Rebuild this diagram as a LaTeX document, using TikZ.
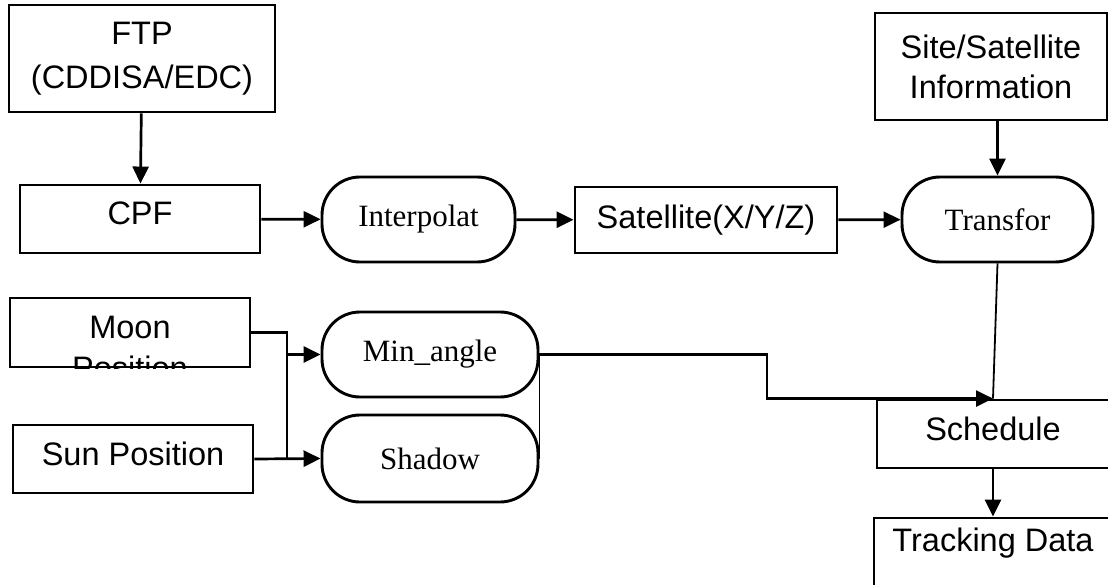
\documentclass[tikz,border=0pt]{standalone}
\usepackage{fontspec}
\setmainfont{Liberation Serif}
\setsansfont{Liberation Sans}
\usetikzlibrary{arrows.meta, positioning, calc}

\begin{document}
\begin{tikzpicture}[
    x=1pt, y=-1pt,
    block/.style={draw, line width=2.9pt, minimum width=240pt, minimum height=68pt,
                  align=center, inner sep=0pt, font=\sffamily\fontsize{32.5}{40}\selectfont},
    lifted/.style={text height=24pt, text depth=12pt},
    rblock/.style={draw, line width=2.9pt, rounded corners=38pt, minimum width=193pt,
                   minimum height=85pt, inner sep=0pt, font=\rmfamily\fontsize{31}{36}\selectfont},
    arr/.style={-{Triangle[length=17pt, width=16pt]}, line width=2.7pt},
    thinline/.style={line width=1.8pt},
]
    \clip (0,0) rectangle (1108,585);
    \fill[white] (0,0) rectangle (1108,585);

    % orbit prediction chain
    \node[block, minimum width=266pt, minimum height=107pt,
          font=\sffamily\fontsize{32.5}{44}\selectfont] (ftp) at (142,58.5) {FTP\\(CDDISA/EDC)};
    \node[block, lifted] (cpf) at (140,219) {CPF};
    \node[rblock] (interp) at (418.5,219.5) {Interpolat};
    \node[block, minimum width=262pt, minimum height=66pt] (sat) at (706,220) {Satellite(X/Y/Z)};
    \node[rblock, minimum width=191pt] (trans) at (997.5,219.5) {Transfor};
    \node[block, minimum width=232pt, minimum height=107pt] (site) at (991,66.5) {Site/Satellite\\Information};

    % constraints
    \node[block, minimum height=69pt] (moon) at (130,332.5) {};
    \begin{scope}
        \clip (moon.south west) rectangle (moon.north east);
        \node[font=\sffamily\fontsize{32.5}{40}\selectfont, anchor=base] (moonword) at (130,338.5) {Moon};
        \node[font=\sffamily\fontsize{32.5}{40}\selectfont, anchor=base] (posword) at (130,379) {Position};
    \end{scope}
    \node[block, lifted] (sun) at (133,459) {Sun Position};
    \node[rblock, minimum width=216pt] (minang) at (430,354.5) {Min\_angle};
    \node[rblock, minimum width=216pt, minimum height=87pt] (shadow) at (430,458.5) {Shadow};

    % output
    \node[block, lifted, minimum width=232pt] (sched) at (993,434) {Schedule};
    \node[block, minimum width=238pt, minimum height=80pt,
          text height=24pt, text depth=37pt] (track) at (993,558) {Tracking Data};

    \coordinate (bus) at (287,400);
    \coordinate (elbow) at (767,378);

    \draw[arr] (ftp) -- (cpf);
    \draw[arr] (cpf) -- (interp);
    \draw[arr] (interp) -- (sat);
    \draw[arr] (sat) -- (trans);
    \draw[arr] (site.south -| trans.north) -- (trans.north);
    \draw[thinline] (trans.south) -- (sched.north);

    \draw[arr] (moon.east) -- (moon.east -| bus) |- (minang.west);
    \draw[arr] (sun.east) -- (shadow.west);
    \draw[line width=2.7pt] (moon.east -| bus) -- (sun.east -| bus);
    \draw[thinline] (minang.east) -- (shadow.east);
    \draw[arr] (minang.east) -| (elbow) |- (sched.north);
    \draw[arr] (sched.south) -- (track.north);
\end{tikzpicture}
\end{document}
